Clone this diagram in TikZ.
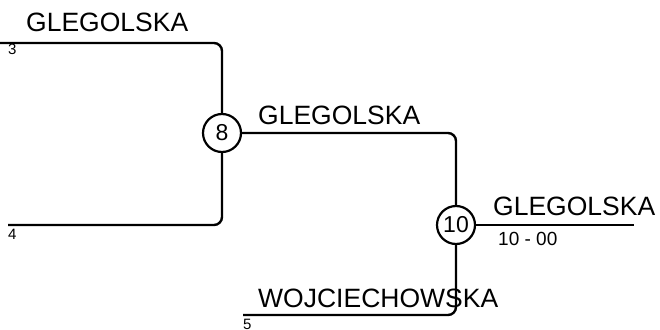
\documentclass[tikz,border=0pt]{standalone}
\usepackage{fontspec}
\setmainfont{Liberation Sans}
\usepackage{tikz}
\usetikzlibrary{calc}

\begin{document}
\begin{tikzpicture}[x=1pt,y=-1pt,
  bracketline/.style={line width=2.4pt,rounded corners=8pt},
  matchno/.style={circle,draw,line width=2.2pt,minimum size=38pt,inner sep=0pt,font=\fontsize{23}{26}\selectfont},
  playername/.style={anchor=base west,inner sep=0pt,font=\fontsize{26.5}{30}\selectfont},
  seedno/.style={anchor=base west,inner sep=0pt,font=\fontsize{15}{17}\selectfont}]
\useasboundingbox (0,0) rectangle (660,329);
\node[matchno] (m8) at (222,133) {8};
\node[matchno] (m10) at (456,225) {10};
\coordinate (p3) at (0,43);
\coordinate (p4) at (8,225);
\coordinate (p5) at (243,315);
\coordinate (win) at (634,225);
\draw[bracketline] (p3) -| (m8);
\draw[bracketline] (p4) -| (m8);
\draw[bracketline] (m8) -| (m10);
\draw[bracketline] (p5) -| (m10);
\draw[bracketline] (m10) -- (win);
\node[playername] (n3) at (26,32) {GLEGOLSKA};
\node[seedno] (s3) at (8,55) {3};
\node[seedno] (s4) at (8,239) {4};
\node[playername] (n8) at (258,124) {GLEGOLSKA};
\node[playername] (n10) at (493,215) {GLEGOLSKA};
\node[seedno,font=\fontsize{19}{22}\selectfont] (res) at (498,245) {10 - 00};
\node[playername] (n5) at (258,307) {WOJCIECHOWSKA};
\node[seedno] (s5) at (243,329) {5};
\end{tikzpicture}
\end{document}
